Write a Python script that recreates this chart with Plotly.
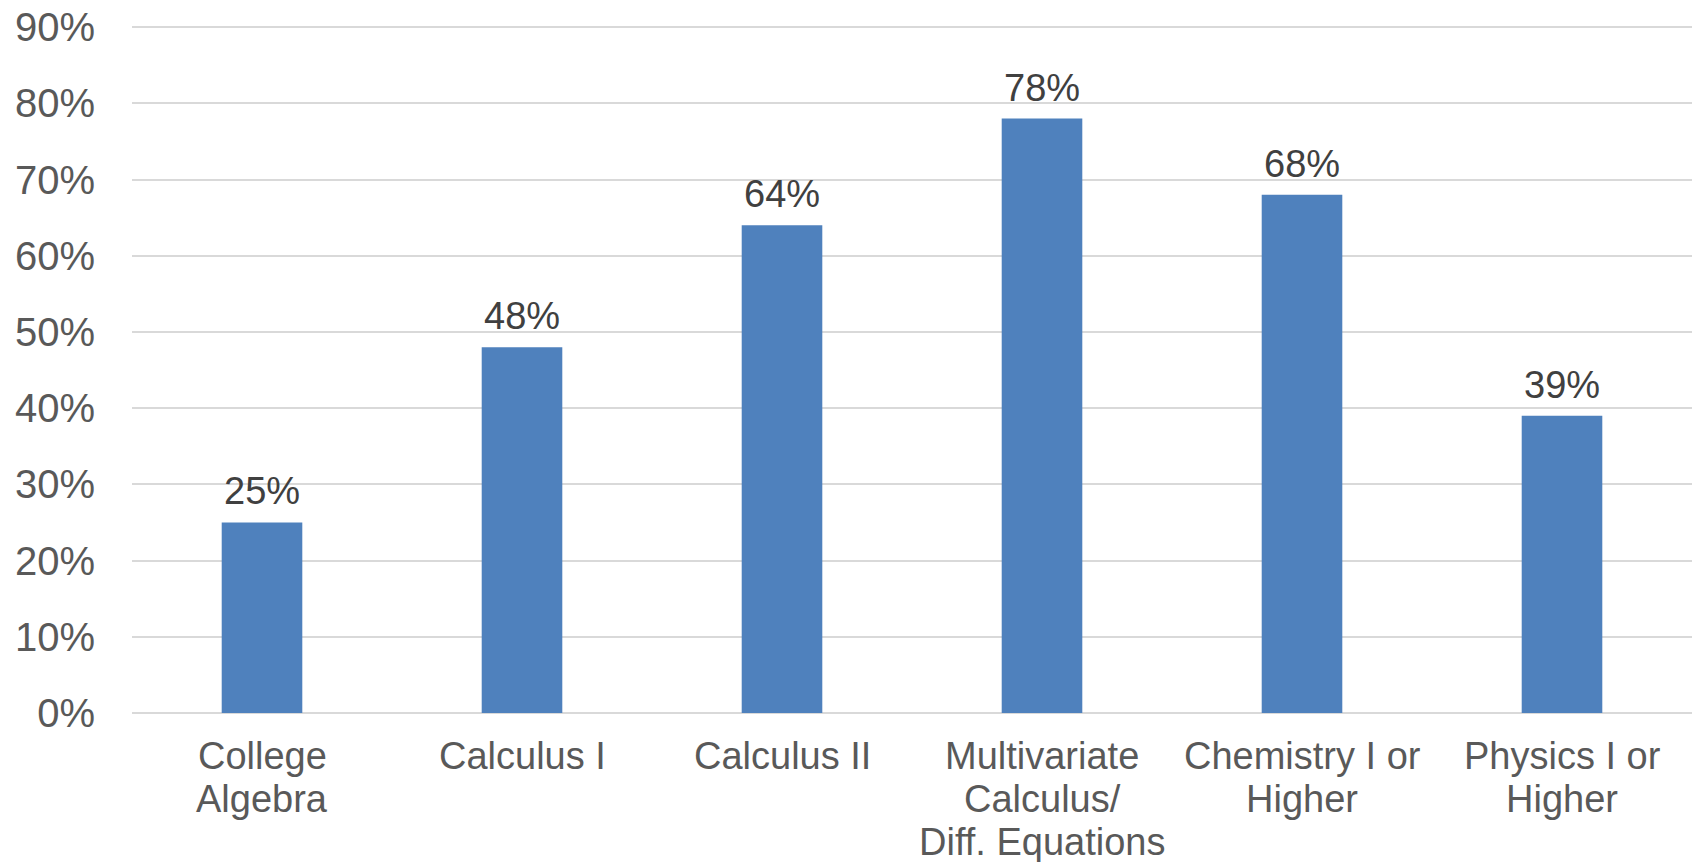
import plotly.graph_objects as go

# Share of students by course category
categories = [
    "College Algebra",
    "Calculus I",
    "Calculus II",
    "Multivariate Calculus/ Diff. Equations",
    "Chemistry I or Higher",
    "Physics I or Higher",
]
category_lines = [
    ["College", "Algebra"],
    ["Calculus I"],
    ["Calculus II"],
    ["Multivariate", "Calculus/", "Diff. Equations"],
    ["Chemistry I or", "Higher"],
    ["Physics I or", "Higher"],
]
values = [0.25, 0.48, 0.64, 0.78, 0.68, 0.39]
y_ticks = [0, 0.1, 0.2, 0.3, 0.4, 0.5, 0.6, 0.7, 0.8, 0.9]
y_tick_labels = ["0%", "10%", "20%", "30%", "40%", "50%", "60%", "70%", "80%", "90%"]

FONT = "Liberation Sans, Arial, sans-serif"
BAR_COLOR = "#4F81BD"
LABEL_COLOR = "#595959"
LINE_STEP = 43  # px between category label lines

fig = go.Figure()
fig.add_trace(
    go.Bar(
        x=categories,
        y=values,
        marker=dict(color=BAR_COLOR, line=dict(width=0)),
        width=0.31,
        hoverinfo="skip",
    )
)

# value labels above each bar
for cat, v in zip(categories, values):
    fig.add_annotation(
        x=cat,
        y=v,
        text=f"{round(v * 100)}%",
        showarrow=False,
        yanchor="bottom",
        yshift=8,
        font=dict(family=FONT, size=38, color="#404040"),
    )

# category labels under the axis, one annotation per line
for cat, lines in zip(categories, category_lines):
    for i, line in enumerate(lines):
        fig.add_annotation(
            x=cat,
            y=0,
            yref="y",
            text=line,
            showarrow=False,
            yanchor="top",
            yshift=-(20 + i * LINE_STEP),
            font=dict(family=FONT, size=38, color=LABEL_COLOR),
        )

fig.update_layout(
    width=1696,
    height=862,
    margin=dict(l=132, r=4, t=26, b=149),
    paper_bgcolor="white",
    plot_bgcolor="white",
    showlegend=False,
    font=dict(family=FONT, color=LABEL_COLOR),
)

fig.update_xaxes(
    showgrid=False,
    showline=False,
    zeroline=False,
    ticks="",
    showticklabels=False,
    automargin=False,
)
fig.update_yaxes(
    range=[0, 0.9015],
    tickvals=y_ticks,
    ticktext=y_tick_labels,
    showgrid=True,
    gridcolor="#D9D9D9",
    gridwidth=2,
    zeroline=True,
    zerolinecolor="#D9D9D9",
    zerolinewidth=2,
    showline=False,
    ticks="",
    ticklabelstandoff=36,
    automargin=False,
    tickfont=dict(family=FONT, size=40, color=LABEL_COLOR),
)

fig.write_html("out.html")
